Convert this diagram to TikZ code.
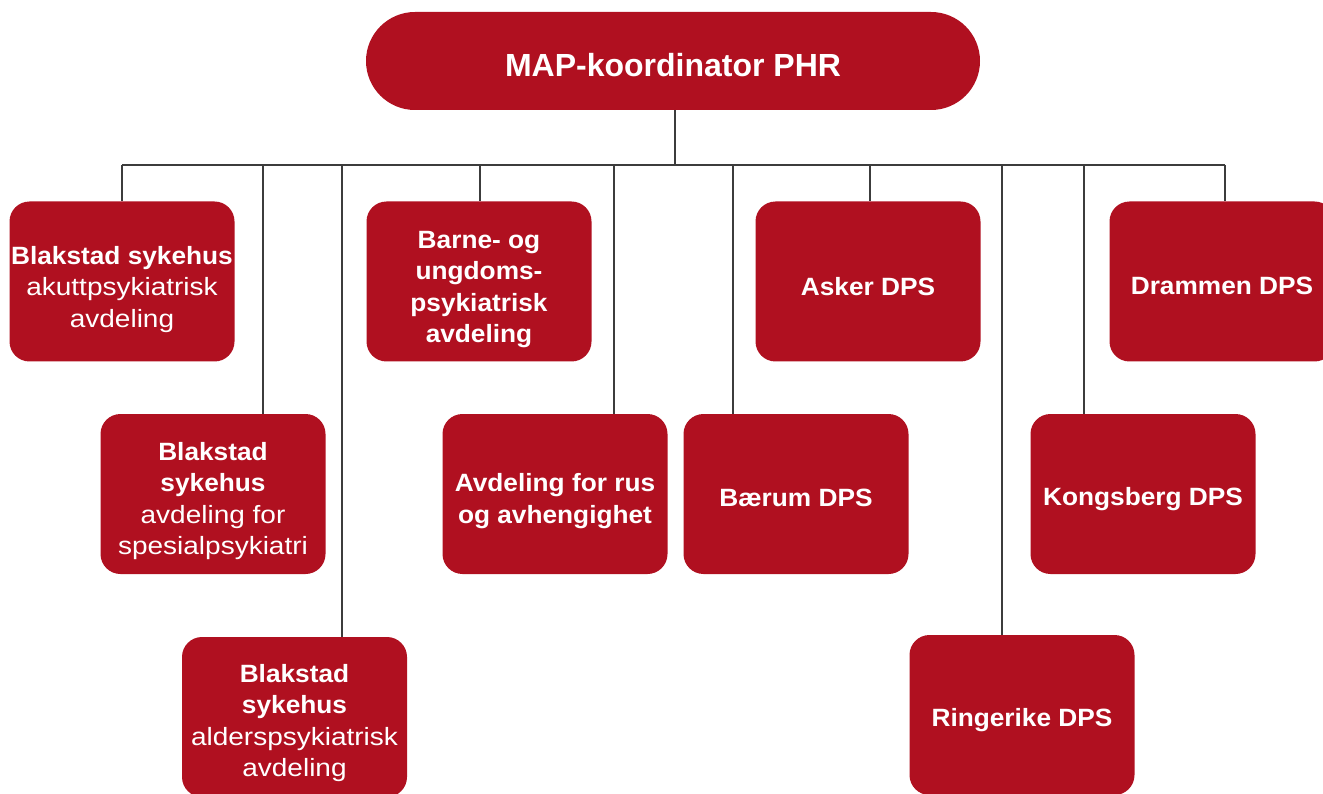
\documentclass[tikz,border=0pt]{standalone}
\usepackage{fontspec}
\setmainfont{Liberation Sans}[UprightFeatures={FakeStretch=1.12}, BoldFeatures={FakeStretch=1.05}]
\newfontfamily\topfont{Liberation Sans}
\definecolor{phr}{RGB}{176,16,32}
\definecolor{wire}{RGB}{60,60,60}
\begin{document}
\begin{tikzpicture}[x=1pt,y=-1pt,
  box/.style={fill=phr, rounded corners=20pt, minimum width=225pt, minimum height=160pt, inner sep=0pt},
  txt/.style={text=white, align=center, inner sep=0pt, font=\fontsize{25}{31.5}\selectfont},
  topbox/.style={fill=phr, rounded corners=49pt, minimum width=614pt, minimum height=98pt, inner sep=0pt},
  toptxt/.style={text=white, inner sep=0pt, font=\topfont\bfseries\fontsize{32}{36}\selectfont},
  wire/.style={draw=wire, line width=1.3pt}]
\useasboundingbox (0,0) rectangle (1323,794);
\begin{scope}
\clip (0,0) rectangle (1323,794);
% top
\node[topbox] (top) at (673,61) {};
\node[toptxt] (top-t) at ([yshift=-4pt]top.center) {MAP-koordinator PHR};
% row 1
\node[box] (A) at (122,281.5) {};
\node[txt] (A-t) at ([yshift=-8pt]A.center) {\textbf{Blakstad sykehus}\\akuttpsykiatrisk\\avdeling};
\node[box] (D) at (479,281.5) {};
\node[txt] (D-t) at ([yshift=-8pt]D.center) {\textbf{Barne- og}\\\textbf{ungdoms-}\\\textbf{psykiatrisk}\\\textbf{avdeling}};
\node[box] (As) at (868,281.5) {};
\node[txt] (As-t) at ([yshift=-5pt]As.center) {\textbf{Asker DPS}};
\node[box] (Dr) at (1222,281.5) {};
\node[txt] (Dr-t) at ([yshift=-4pt]Dr.center) {\textbf{Drammen DPS}};
% row 2
\node[box] (B) at (213,494) {};
\node[txt] (B-t) at ([yshift=-7pt]B.center) {\textbf{Blakstad}\\\textbf{sykehus}\\avdeling for\\spesialpsykiatri};
\node[box] (E) at (555,494) {};
\node[txt] (E-t) at ([yshift=-7pt]E.center) {\textbf{Avdeling for rus}\\\textbf{og avhengighet}};
\node[box] (Ba) at (796,494) {};
\node[txt] (Ba-t) at ([yshift=-4pt]Ba.center) {\textbf{Bærum DPS}};
\node[box] (K) at (1143,494) {};
\node[txt] (K-t) at ([yshift=-5pt]K.center) {\textbf{Kongsberg DPS}};
% row 3
\node[box] (C) at (294.5,717) {};
\node[txt] (C-t) at ([yshift=-6pt]C.center) {\textbf{Blakstad}\\\textbf{sykehus}\\alderspsykiatrisk\\avdeling};
\node[box] (R) at (1022,715) {};
\node[txt] (R-t) at ([yshift=-5pt]R.center) {\textbf{Ringerike DPS}};
% bus coordinates
\coordinate (bus) at (675,165);
\coordinate (dA) at (122,165);
\coordinate (dB) at (263,165);
\coordinate (dC) at (342,165);
\coordinate (dD) at (480,165);
\coordinate (dE) at (614,165);
\coordinate (dBa) at (733,165);
\coordinate (dAs) at (870,165);
\coordinate (dR) at (1002,165);
\coordinate (dK) at (1084,165);
\coordinate (dDr) at (1225,165);
\draw[wire] (top.south -| bus) -- (bus);
\draw[wire] (dA) -- (dDr);
\draw[wire] (dA) -- (dA |- A.north);
\draw[wire] (dB) -- (dB |- B.north);
\draw[wire] (dC) -- (dC |- C.north);
\draw[wire] (dD) -- (dD |- D.north);
\draw[wire] (dE) -- (dE |- E.north);
\draw[wire] (dBa) -- (dBa |- Ba.north);
\draw[wire] (dAs) -- (dAs |- As.north);
\draw[wire] (dR) -- (dR |- R.north);
\draw[wire] (dK) -- (dK |- K.north);
\draw[wire] (dDr) -- (dDr |- Dr.north);
\end{scope}
\end{tikzpicture}
\end{document}
